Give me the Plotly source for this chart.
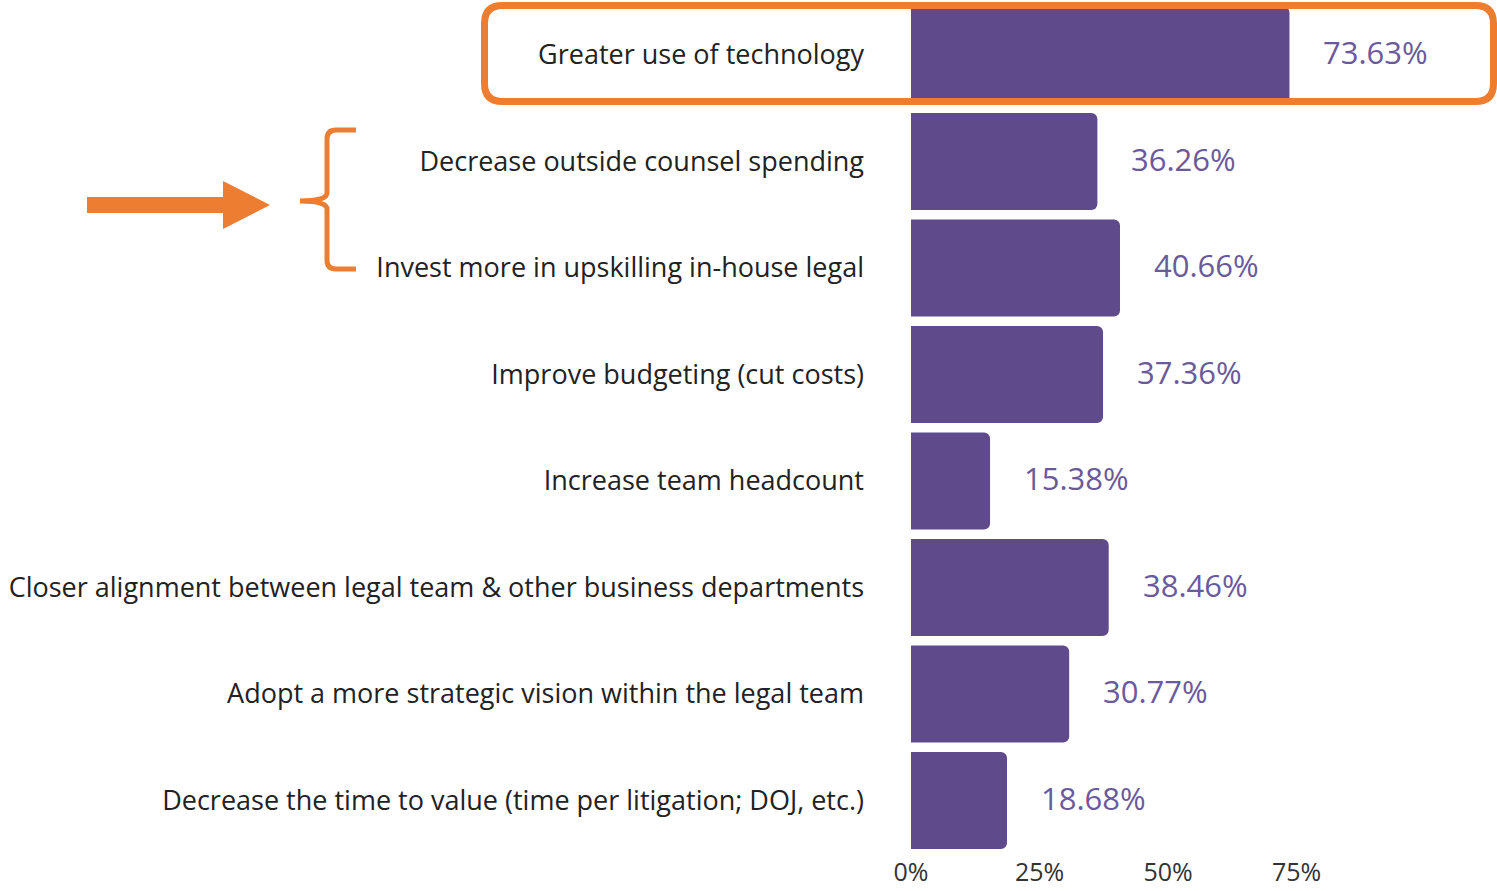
import plotly.graph_objects as go

categories = [
    "Greater use of technology",
    "Decrease outside counsel spending",
    "Invest more in upskilling in-house legal",
    "Improve budgeting (cut costs)",
    "Increase team headcount",
    "Closer alignment between legal team & other business departments",
    "Adopt a more strategic vision within the legal team",
    "Decrease the time to value (time per litigation; DOJ, etc.)",
]
values = [73.63, 36.26, 40.66, 37.36, 15.38, 38.46, 30.77, 18.68]
tick_vals = [0, 25, 50, 75]
tick_text = [f"{v}%" for v in tick_vals]

W, H = 1497, 891
BAR = "#5f4b8b"
ORANGE = "#ED7D31"

def px(x):
    return x / W

def py(y):
    return 1 - y / H

fig = go.Figure(go.Bar(
    x=values, y=categories, orientation="h",
    marker=dict(color=BAR, line=dict(width=0), cornerradius=6),
    width=0.91, hoverinfo="skip",
))

for c, v in zip(categories, values):
    fig.add_annotation(
        x=v, y=c, xref="x", yref="y", text=f"{v:.2f}%",
        showarrow=False, xanchor="left", xshift=32, yshift=3,
        font=dict(family="Open Sans", size=31, color="#6a5a9c"),
    )

# rounded box around first row
x0, x1, y0, y1, r = 484.5, 1493.5, 5.5, 101.5, 18
p = (f"M {px(x0 + r)},{py(y0)} L {px(x1 - r)},{py(y0)} "
     f"Q {px(x1)},{py(y0)} {px(x1)},{py(y0 + r)} L {px(x1)},{py(y1 - r)} "
     f"Q {px(x1)},{py(y1)} {px(x1 - r)},{py(y1)} L {px(x0 + r)},{py(y1)} "
     f"Q {px(x0)},{py(y1)} {px(x0)},{py(y1 - r)} L {px(x0)},{py(y0 + r)} "
     f"Q {px(x0)},{py(y0)} {px(x0 + r)},{py(y0)} Z")
fig.add_shape(type="path", path=p, xref="paper", yref="paper",
              line=dict(color=ORANGE, width=7), layer="above")

# brace
b = (f"M {px(356)},{py(130)} L {px(336)},{py(130)} "
     f"Q {px(327)},{py(130)} {px(327)},{py(139)} L {px(327)},{py(193)} "
     f"Q {px(327)},{py(201)} {px(300)},{py(201)} "
     f"Q {px(327)},{py(201)} {px(327)},{py(209)} L {px(327)},{py(260)} "
     f"Q {px(327)},{py(269)} {px(336)},{py(269)} L {px(356)},{py(269)}")
fig.add_shape(type="path", path=b, xref="paper", yref="paper",
              line=dict(color=ORANGE, width=5), layer="above")

# arrow
a = (f"M {px(87)},{py(197)} L {px(223)},{py(197)} L {px(223)},{py(181)} "
     f"L {px(270)},{py(205)} L {px(223)},{py(229)} L {px(223)},{py(213)} "
     f"L {px(87)},{py(213)} Z")
fig.add_shape(type="path", path=a, xref="paper", yref="paper",
              fillcolor=ORANGE, line=dict(width=0), layer="above")

fig.update_layout(
    width=W, height=H,
    margin=dict(l=0, r=0, t=0, b=0),
    paper_bgcolor="white", plot_bgcolor="white",
    showlegend=False, bargap=0.09,
    xaxis=dict(domain=[911 / W, 1], range=[0, 114], tickvals=tick_vals,
               ticktext=tick_text, showgrid=False, zeroline=False,
               showline=False, ticks="", ticklabelstandoff=1,
               automargin=False,
               tickfont=dict(family="Open Sans", size=25, color="#333333")),
    yaxis=dict(domain=[1 - 853.75 / H, 1 - 1.75 / H], autorange="reversed",
               showgrid=False, zeroline=False, showline=False, ticks="",
               ticklabelstandoff=46, automargin=False,
               tickfont=dict(family="Open Sans", size=27, color="#222222",
                             weight=500)),
    font=dict(family="Open Sans"),
)

fig.write_html(
    "out.html",
    config={"displayModeBar": False},
    post_script="document.body.style.margin='0';document.body.style.overflow='hidden';",
)
